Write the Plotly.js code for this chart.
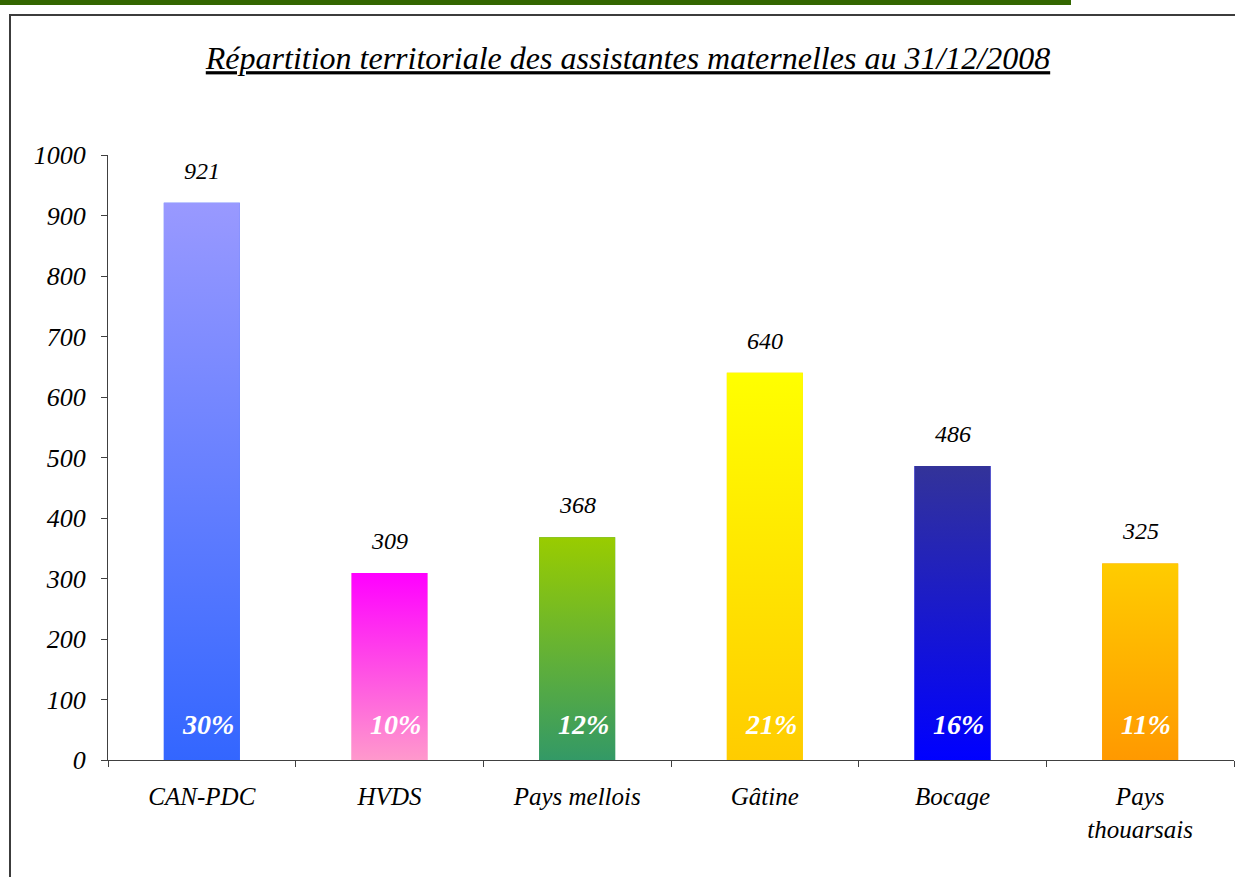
<!DOCTYPE html>
<html><head><meta charset="utf-8">
<script src="https://cdn.plot.ly/plotly-3.0.1.min.js"></script>
<style>
html,body{margin:0;padding:0;background:#fff;}
#wrap{position:relative;width:1235px;height:877px;overflow:hidden;}
#greenbar{position:absolute;left:0;top:0;width:1071px;height:5px;background:#336600;}
#frame{position:absolute;left:9px;top:14px;width:1240px;height:900px;border-left:2px solid #3c3c3c;border-top:2px solid #3c3c3c;}
#chart{position:absolute;left:0;top:0;width:1235px;height:877px;}
</style></head>
<body><div id="wrap"><div id="greenbar"></div><div id="frame"></div><div id="chart"></div></div>
<script>
const categories = ['CAN-PDC','HVDS','Pays mellois','Gâtine','Bocage','Pays thouarsais'];
const tickLabels = ['CAN-PDC','HVDS','Pays mellois','Gâtine','Bocage','Pays<br>thouarsais'];
const values = [921, 309, 368, 640, 486, 325];
const shares = ['30%','10%','12%','21%','16%','11%'];
const topColors = ['#9999ff','#ff00ff','#99cc00','#ffff00','#333399','#ffcc00'];
const bottomColors = ['#3366ff','#ff99cc','#339966','#ffcc00','#0000ff','#ff9900'];

const FONT = 'Liberation Serif, Times New Roman, serif';
const BAR_W = 0.405;

const traces = [{
  type: 'bar', x: categories, y: values, width: BAR_W,
  marker: {color: bottomColors, line: {width: 0}},
  hoverinfo: 'none', showlegend: false
}];

// gradient fill overlay for each bar (same geometry, on a hidden linear axis matching the category axis)
values.forEach((v, i) => {
  traces.push({
    type: 'scatter', xaxis: 'x2', yaxis: 'y',
    x: [i - BAR_W/2, i + BAR_W/2, i + BAR_W/2, i - BAR_W/2, i - BAR_W/2],
    y: [0, 0, v, v, 0],
    mode: 'lines', line: {width: 0, color: 'rgba(0,0,0,0)'},
    fill: 'toself', fillcolor: bottomColors[i],
    fillgradient: {type: 'vertical', colorscale: [[0, bottomColors[i]], [1, topColors[i]]], start: 0, stop: v},
    hoverinfo: 'none', showlegend: false
  });
});

const annotations = [];
categories.forEach((c, i) => {
  annotations.push({
    xref: 'x', yref: 'y', x: c, y: values[i], yanchor: 'middle', yshift: 32,
    text: String(values[i]), showarrow: false,
    font: {family: FONT, size: 24, color: '#000', style: 'italic'}
  });
  annotations.push({
    xref: 'x', yref: 'y', x: c, y: 0, yanchor: 'middle', yshift: 36, xshift: 6,
    text: shares[i], showarrow: false,
    font: {family: FONT, size: 28, color: '#fff', style: 'italic', weight: 'bold'}
  });
});

const layout = {
  width: 1235, height: 877,
  margin: {l: 108, r: 1, t: 155, b: 117},
  paper_bgcolor: 'rgba(0,0,0,0)', plot_bgcolor: 'rgba(0,0,0,0)',
  title: {
    text: '<u>Répartition territoriale des assistantes maternelles au 31/12/2008</u>',
    xref: 'container', yref: 'container', x: 0.5085, y: 1 - 58/877,
    xanchor: 'center', yanchor: 'middle',
    font: {family: FONT, size: 32, color: '#000', style: 'italic'}
  },
  xaxis: {
    type: 'category', range: [-0.5, 5.5], tickvals: categories, ticktext: tickLabels,
    tickson: 'boundaries', ticks: 'outside', ticklen: 6, tickcolor: '#404040',
    showline: true, linecolor: '#404040', linewidth: 1, showgrid: false,
    ticklabelstandoff: 14,
    tickfont: {family: FONT, size: 25, color: '#000', style: 'italic'}, fixedrange: true
  },
  xaxis2: {overlaying: 'x', range: [-0.5, 5.5], visible: false, fixedrange: true},
  yaxis: {
    range: [0, 1000], dtick: 100, tick0: 0, ticks: 'outside', ticklen: 6, tickcolor: '#404040',
    showline: true, linecolor: '#404040', linewidth: 1, showgrid: false, zeroline: false,
    ticklabelstandoff: 10,
    tickfont: {family: FONT, size: 26, color: '#000', style: 'italic'}, fixedrange: true
  },
  annotations: annotations,
  showlegend: false
};

Plotly.newPlot('chart', traces, layout, {displayModeBar: false, staticPlot: true});
</script></body></html>
